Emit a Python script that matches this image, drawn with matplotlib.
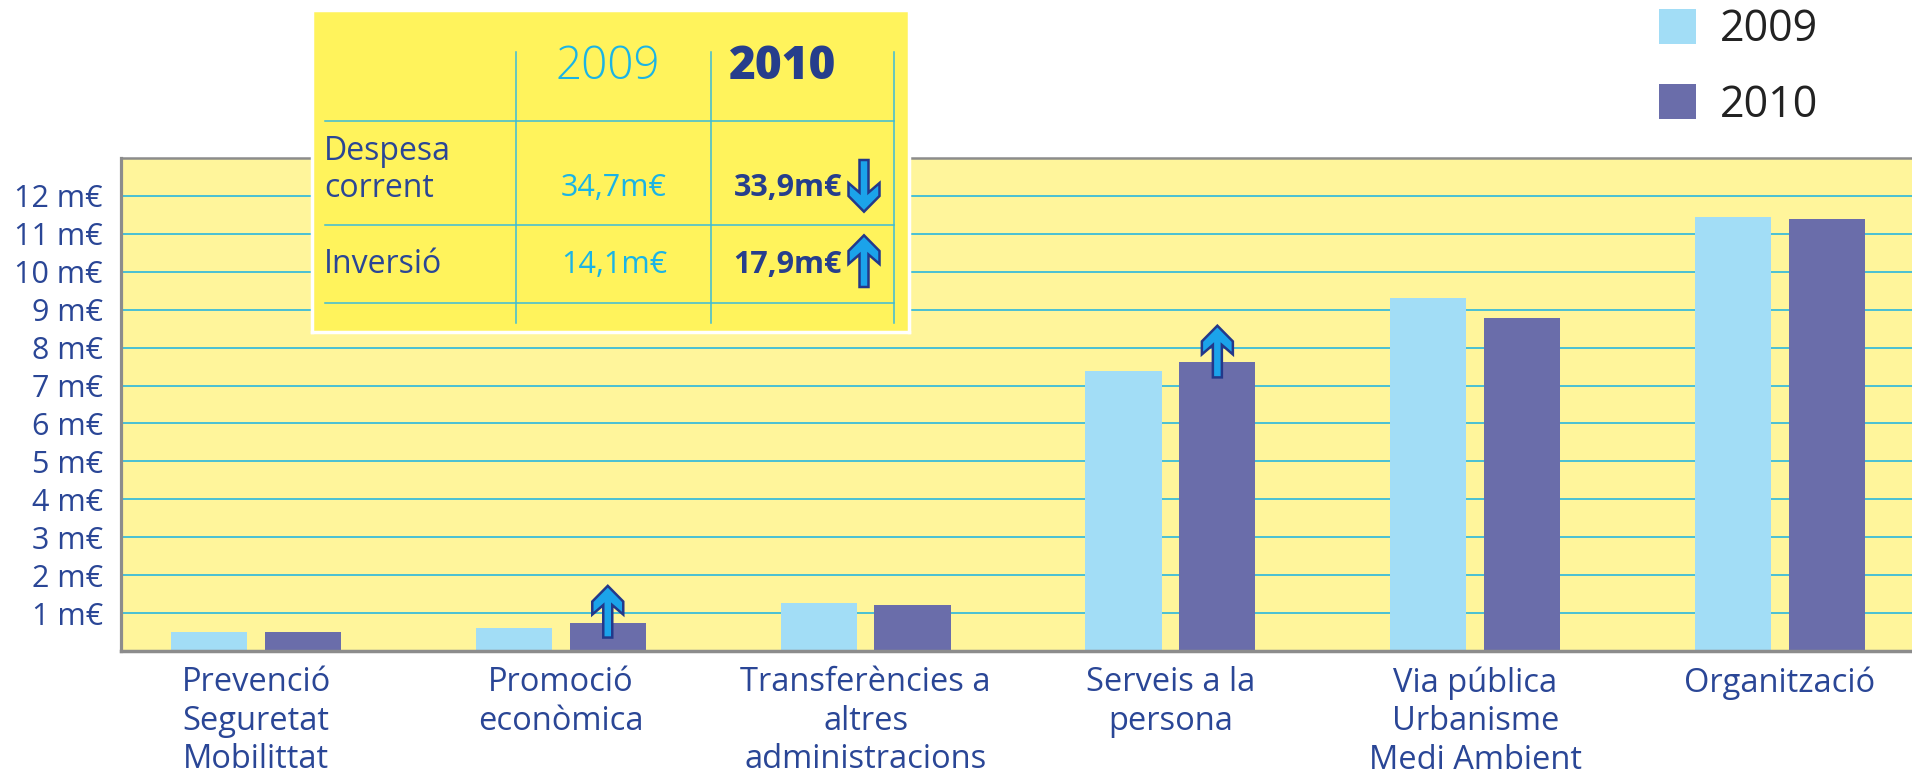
import numpy as np
import matplotlib.pyplot as plt
from matplotlib.patches import Polygon
from matplotlib.transforms import ScaledTranslation

plt.rcParams['font.family'] = ['Open Sans', 'DejaVu Sans']

# dades del grafic (milions d'euros)
categories = ['Prevenció\nSeguretat\nMobilittat', 'Promoció\neconòmica',
              'Transferències a\naltres\nadministracions', 'Serveis a la\npersona',
              'Via pública\nUrbanisme\nMedi Ambient', 'Organització']
v2009 = [0.49, 0.60, 1.26, 7.39, 9.30, 11.44]
v2010 = [0.49, 0.75, 1.20, 7.61, 8.77, 11.40]
years = ['2009', '2010']
ytick_vals = list(range(1, 13))
ytick_labels = [str(v) + ' m€' for v in ytick_vals]
up_cats = [1, 3]   # categories amb fletxa de pujada

# quadre resum
row_labels = ['Despesa\ncorrent', 'Inversió']
tot2009 = ['34,7m€', '14,1m€']
tot2010 = ['33,9m€', '17,9m€']
trend = ['down', 'up']

W, H = 1912, 774
c09 = '#a2ddf6'
c10 = '#6a6daa'
navy = '#2a4696'
grid_c = '#3cbcd9'
arrow_fc = '#1ba3ea'
arrow_ec = '#23388a'

fig = plt.figure(figsize=(W / 100, H / 100), dpi=100)


def arrow_verts(direction=1):
    # fletxa en pixels, origen a la base de la tija
    v = np.array([[0, 51.7], [15.5, 36], [15.5, 23], [4.5, 32.5], [4.5, 0],
                  [-4.5, 0], [-4.5, 32.5], [-15.5, 23], [-15.5, 36]])
    v[:, 1] *= direction
    return v


# eixos principals
ax = fig.add_axes([121 / W, 1 - 651 / H, (W - 121) / W, (651 - 158) / H])
ax.set_facecolor('#fff59b')
x = np.arange(len(categories))
bw = 0.25
off = 0.154
b1 = ax.bar(x - off, v2009, bw, color=c09, label=years[0], zorder=2)
b2 = ax.bar(x + off, v2010, bw, color=c10, label=years[1], zorder=2)

ax.set_xlim(-0.443, 5.433)
ax.set_ylim(0, 13.0)
ax.set_yticks(ytick_vals)
ax.set_yticklabels(ytick_labels, fontsize=22, color=navy)
ax.set_xticks(x)
ax.set_xticklabels(categories, fontsize=23.5, color=navy, linespacing=1.22)
ax.tick_params(axis='both', length=0)
ax.tick_params(axis='y', pad=13)
ax.tick_params(axis='x', pad=11)
ax.yaxis.grid(True, color=grid_c, lw=1.3)
ax.set_axisbelow(True)
for s in ['left', 'top', 'bottom']:
    ax.spines[s].set_color('#8c8c8c')
ax.spines['left'].set_linewidth(2.3)
ax.spines['bottom'].set_linewidth(2.5)
ax.spines['top'].set_linewidth(1.8)
ax.spines['right'].set_visible(False)

# fletxes de pujada sobre les barres 2010
for i in up_cats:
    tr = fig.dpi_scale_trans + ScaledTranslation(x[i] + off, v2010[i], ax.transData)
    verts = (arrow_verts(1) + [0, -15]) / 100.0
    ax.add_patch(Polygon(verts, closed=True, transform=tr, facecolor=arrow_fc,
                         edgecolor=arrow_ec, lw=1.8, zorder=4, clip_on=False))

# llegenda
fig.legend(handles=[b1, b2], labels=years, loc='upper left',
           bbox_to_anchor=(1637 / W, 1 + 14 / H), frameon=False, fontsize=31,
           handlelength=0.88, handleheight=0.88, handletextpad=0.55,
           labelspacing=0.72, borderpad=0, labelcolor='#222222')

# quadre resum
tax = fig.add_axes([312 / W, 1 - 332 / H, 597 / W, 322 / H], zorder=5)
tax.set_facecolor('#fff35c')
tax.set_xlim(0, 597)
tax.set_ylim(322, 0)
tax.set_xticks([])
tax.set_yticks([])
for s in tax.spines.values():
    s.set_color('white')
    s.set_linewidth(2.5)

for xv in [203.5, 399, 582]:
    tax.plot([xv, xv], [42, 313], color=grid_c, lw=1.1)
for yv in [111, 215, 293]:
    tax.plot([12.5, 582], [yv, yv], color=grid_c, lw=1.1)

tax.text(296, 57, years[0], ha='center', va='center', fontsize=33,
         color='#1ab4e6', fontweight='light')
tax.text(471, 57, years[1], ha='center', va='center', fontsize=33,
         color='#263e8c', fontweight='heavy')

row_y = [178, 255]
tax.text(12, 160, row_labels[0], ha='left', va='center', fontsize=23,
         color=navy, linespacing=1.15)
tax.text(12, row_y[1], row_labels[1], ha='left', va='center', fontsize=23,
         color=navy)
for k in range(2):
    tax.text(302, row_y[k], tot2009[k], ha='center', va='center', fontsize=22,
             color='#1ab4e6')
    tax.text(530, row_y[k], tot2010[k], ha='right', va='center', fontsize=22,
             color='#263e8c', fontweight='bold')
    if trend[k] == 'up':
        v = arrow_verts(-1) + [552, 277]
    else:
        v = arrow_verts(1) + [552, 150]
    tax.add_patch(Polygon(v, closed=True, facecolor=arrow_fc, edgecolor=arrow_ec,
                          lw=1.8, zorder=4))

fig.savefig('out.png', dpi=100)
